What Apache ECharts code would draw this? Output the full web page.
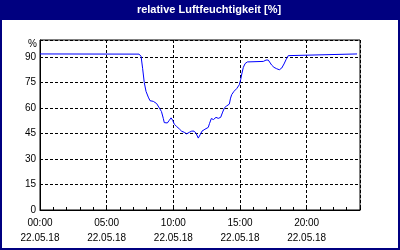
<!DOCTYPE html>
<html><head><meta charset="utf-8">
<script src="https://cdn.jsdelivr.net/npm/echarts@6/dist/echarts.min.js"></script>
<style>html,body{margin:0;padding:0;background:#000080}#c{width:400px;height:250px}</style>
</head><body><div id="c"></div>
<script>
const chartTitle = 'relative Luftfeuchtigkeit [%]';
const dateLabel = '22.05.18';
const yUnit = '%';
// time in decimal hours of 22.05.18
const times = [0, 7.43, 7.58, 7.70, 7.82, 7.95, 8.12, 8.25, 8.50, 8.75, 8.95, 9.11, 9.25, 9.32, 9.55, 9.70, 9.83, 9.95,
  10.07, 10.25, 10.45, 10.63, 10.82, 11.0, 11.2, 11.38, 11.55, 11.7, 11.87, 12.02, 12.15, 12.37, 12.62, 12.71, 12.85,
  13.01, 13.2, 13.37, 13.55, 13.7, 13.84, 14.0, 14.2, 14.29, 14.38, 14.55, 14.75, 14.95, 15.05, 15.15, 15.25, 15.38,
  15.55, 16.75, 16.95, 17.12, 17.25, 17.38, 17.55, 17.75, 17.95, 18.13, 18.3, 18.45, 18.62, 18.75, 23.78];
const humidity = [91.8, 91.7, 90.4, 83.1, 74.9, 69.8, 66.4, 64.3, 63.9, 62.6, 60.0, 57.9, 53.8, 51.4, 51.2, 52.8, 54.2, 52.8,
  50.5, 49.1, 47.7, 46.3, 45.7, 44.8, 45.7, 46.4, 46.4, 45.2, 42.3, 44.4, 46.4, 47.5, 48.6, 50.8, 53.8,
  53.2, 54.5, 53.9, 54.5, 57.6, 60.2, 61.2, 62.3, 65.8, 67.9, 69.8, 71.4, 73.7, 76.7, 80.6, 83.9, 86.1,
  87.1, 87.4, 88.2, 88.2, 87.4, 85.2, 83.9, 83.1, 82.5, 83.5, 85.9, 88.4, 90.8, 91.8, 91.8];

const chart = echarts.init(document.getElementById('c'), null, {renderer: 'canvas'});
const font = '"Liberation Sans", Arial, sans-serif';
const pad = n => (n < 10 ? '0' : '') + n;
chart.setOption({
  animation: false,
  backgroundColor: 'transparent',
  grid: {left: 40, right: 40, top: 40, bottom: 40, show: true, borderColor: '#000', borderWidth: 1, backgroundColor: 'transparent'},
  graphic: [
    {type: 'rect', z: -10, shape: {x: 2, y: 20, width: 396, height: 228}, style: {fill: '#fff'}},
    {type: 'text', x: 209, y: 10, style: {text: chartTitle, fill: '#fff', font: 'bold 11px ' + font, textAlign: 'center', textVerticalAlign: 'middle', align: 'center', verticalAlign: 'middle'}},
    {type: 'text', x: 37, y: 44, style: {text: yUnit, fill: '#000', font: '10px ' + font, textAlign: 'right', textVerticalAlign: 'middle', align: 'right', verticalAlign: 'middle'}}
  ],
  xAxis: [
    {type: 'value', min: 0, max: 24, interval: 5,
      axisLine: {show: true, lineStyle: {color: '#000', width: 1}},
      axisTick: {show: false},
      axisLabel: {fontFamily: font, fontSize: 10, color: '#000', lineHeight: 15, margin: 6,
        formatter: v => (v % 5 === 0 && v < 24) ? pad(v) + ':00\n' + dateLabel : ''},
      splitLine: {show: true, lineStyle: {color: '#000', type: [3, 2], width: 1}}},
    {type: 'value', min: 0, max: 24, interval: 1, position: 'bottom',
      axisLine: {show: false}, axisLabel: {show: false}, splitLine: {show: false},
      axisTick: {show: true, inside: true, length: 3, lineStyle: {color: '#000'}}}
  ],
  yAxis: {type: 'value', min: 0, max: 100, interval: 15,
    axisLine: {show: true, lineStyle: {color: '#000'}},
    axisTick: {show: false},
    axisLabel: {fontFamily: font, fontSize: 10, color: '#000', margin: 4, formatter: v => v > 90 ? '' : String(v)},
    splitLine: {show: true, lineStyle: {color: '#000', type: [3, 2], width: 1}}},
  series: [{type: 'line', xAxisIndex: 0, data: times.map((t, i) => [t, humidity[i]]),
    showSymbol: false, symbol: 'none', lineStyle: {color: '#0000ff', width: 1}}]
});
</script></body></html>
